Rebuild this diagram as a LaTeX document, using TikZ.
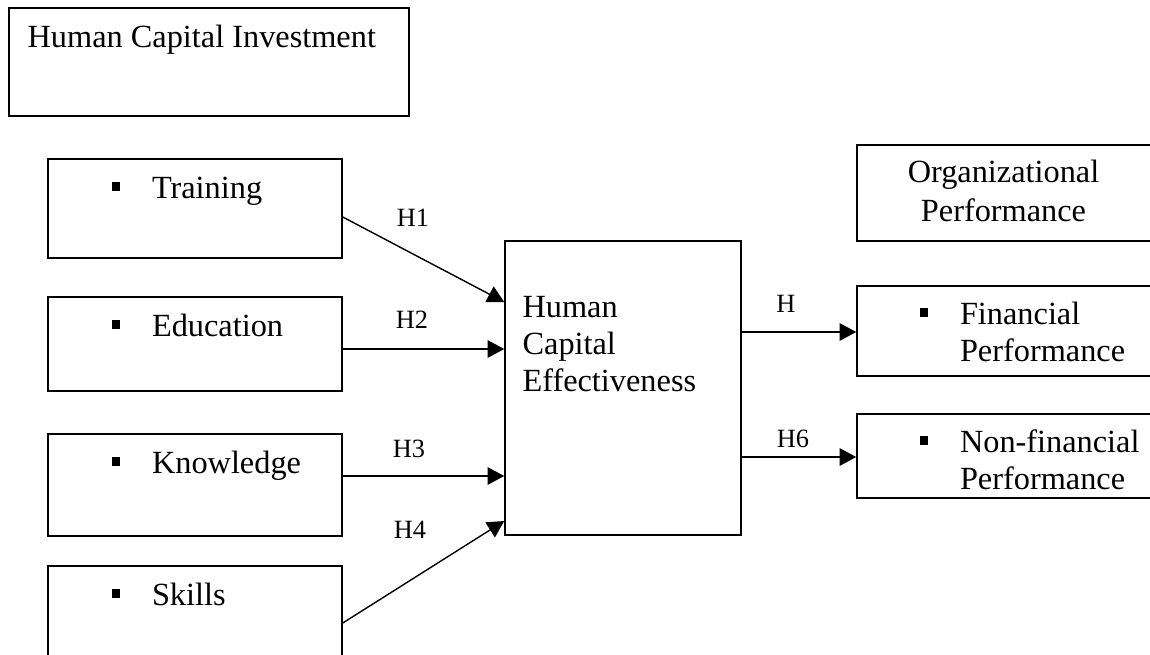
\documentclass[tikz,border=0pt]{standalone}
\usepackage{fontspec}
\setmainfont{Liberation Serif}
\usetikzlibrary{calc, arrows.meta}

\newcommand{\sqbul}{\rule[4.2pt]{4.8pt}{4.8pt}\hspace{18.2pt}}

\begin{document}
\begin{tikzpicture}[
        x=0.02cm, y=-0.02cm,
        >={Triangle[length=9.5pt, width=10pt]},
        box/.style={rectangle, draw, line width=0.9pt, inner sep=0pt},
        txt/.style={anchor=base west, inner sep=0pt, font=\fontsize{18.4}{21.2}\selectfont},
        hlab/.style={inner sep=0pt, font=\fontsize{15}{18}\selectfont},
        link/.style={->, line width=0.8pt}
    ]

        \clip (0,0) rectangle (1150,654);

        % Investment side
        \node[box, minimum width=8cm, minimum height=2.16cm] (hci) at (209,62) {};
        \node[box, minimum width=5.88cm, minimum height=1.98cm] (train) at (195,208.5) {};
        \node[box, minimum width=5.88cm, minimum height=1.88cm] (edu) at (195,344) {};
        \node[box, minimum width=5.88cm, minimum height=2.04cm] (know) at (195,485) {};
        \node[box, minimum width=5.88cm, minimum height=2cm] (skill) at (195,616) {};

        \node[txt] (hciT) at ($(hci.north west)+(19,40)$) {Human Capital Investment};
        \node[txt] (trainT) at ($(train.north west)+(64,40)$) {\sqbul Training};
        \node[txt] (eduT) at ($(edu.north west)+(64,40)$) {\sqbul Education};
        \node[txt] (knowT) at ($(know.north west)+(64,40)$) {\sqbul Knowledge};
        \node[txt] (skillT) at ($(skill.north west)+(64,40)$) {\sqbul Skills};

        % Effectiveness
        \node[box, minimum width=4.72cm, minimum height=5.88cm] (hce) at (623,388) {};
        \node[txt] (hceT) at ($(hce.north west)+(18,77)$)
            {\begin{tabular}[t]{@{}l@{}}Human\\Capital\\Effectiveness\end{tabular}};

        % Performance side
        \node[box, minimum width=5.9cm, minimum height=1.92cm] (org) at (1004.5,193) {};
        \node[box, minimum width=5.9cm, minimum height=1.8cm] (fin) at (1004.5,331) {};
        \node[box, minimum width=5.9cm, minimum height=1.68cm] (nonfin) at (1004.5,456) {};

        \node[txt, anchor=base, font=\fontsize{18.4}{22.2}\selectfont] (orgT) at ($(org.north)+(-1,38)$)
            {\begin{tabular}[t]{@{}c@{}}Organizational\\Performance\end{tabular}};
        \node[txt] (finT) at ($(fin.north west)+(63,39)$)
            {\sqbul\begin{tabular}[t]{@{}l@{}}Financial\\Performance\end{tabular}};
        \node[txt] (nonfinT) at ($(nonfin.north west)+(63,39)$)
            {\sqbul\begin{tabular}[t]{@{}l@{}}Non-financial\\Performance\end{tabular}};

        % Hypotheses
        \draw[link] ($(train.east)+(0,8.5)$) -- ($(hce.west)+(0,-86)$);
        \draw[link] ($(edu.east)+(0,5)$) -- ($(hce.west)+(0,-39)$);
        \draw[link] ($(know.east)+(0,-9)$) -- ($(hce.west)+(0,88)$);
        \draw[link] ($(skill.east)+(0,7)$) -- ($(hce.west)+(0,133)$);
        \draw[link] ($(hce.east)+(0,-56)$) -- ($(fin.west)+(0,1)$);
        \draw[link] ($(hce.east)+(0,69)$) -- ($(nonfin.west)+(0,1)$);

        \node[hlab] (h1) at (413,218) {H1};
        \node[hlab] (h2) at (412,320) {H2};
        \node[hlab] (h3) at (409,449) {H3};
        \node[hlab] (h4) at (410,530) {H4};
        \node[hlab] (h5) at (786,304) {H};
        \node[hlab] (h6) at (793,439) {H6};

    \end{tikzpicture}
\end{document}
